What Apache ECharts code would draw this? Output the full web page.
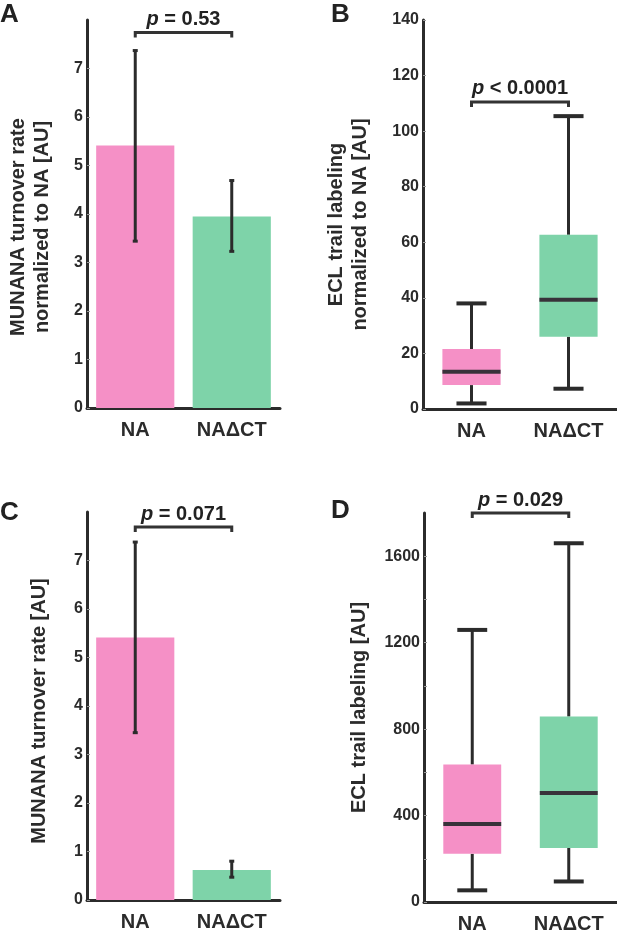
<!DOCTYPE html>
<html>
<head>
<meta charset="utf-8">
<script src="https://cdn.jsdelivr.net/npm/echarts@6/dist/echarts.min.js"></script>
<style>
  html, body { margin: 0; padding: 0; background: #fff; }
  #container { width: 617px; height: 945px; }
</style>
</head>
<body>
<div id="container"></div>
<script>
(function () {
    'use strict';

    // groups and colours
    var groups = ['NA', 'NA\u0394CT'];
    var groupColors = ['#F590C6', '#7ED3A9'];

    // A: turnover rate normalized to NA (mean, error low, error high)
    var rateNormMean = [5.41, 3.95];
    var rateNormLow = [3.44, 3.23];
    var rateNormHigh = [7.37, 4.69];

    // B: ECL trail labeling normalized to NA  [min, q1, median, q3, max]
    var eclNormBox = [
        [2.0, 8.6, 13.4, 21.6, 38.0],
        [7.3, 26.0, 39.3, 62.7, 105.4]
    ];

    // C: turnover rate [AU]
    var rateMean = [5.41, 0.62];
    var rateLow = [3.45, 0.47];
    var rateHigh = [7.38, 0.80];

    // D: ECL trail labeling [AU]  [min, q1, median, q3, max]
    var eclBox = [
        [54, 223, 361, 636, 1259],
        [95, 250, 504, 858, 1660]
    ];

    // significance brackets: height (data units) and p text
    var bracketHeights = [7.74, 110.5, 7.69, 1800];
    var pTexts = [' = 0.53', ' < 0.0001', ' = 0.071', ' = 0.029'];

    var font = 'Liberation Sans, Arial, Helvetica, sans-serif';
    var ink = '#2b2b2b';

    var dom = document.getElementById('container');
    var myChart = echarts.init(dom);

    function xAxisFor(gridIndex) {
        return {
            type: 'category',
            gridIndex: gridIndex,
            data: groups,
            boundaryGap: true,
            axisLine: { lineStyle: { color: ink, width: 3 } },
            axisTick: { show: false },
            axisLabel: { color: ink, fontSize: 20, fontWeight: 'bold', fontFamily: font, margin: 12 },
            splitLine: { show: false }
        };
    }

    function yAxisFor(gridIndex, max, interval, name, gap, pad, labelEvery) {
        return {
            type: 'value',
            gridIndex: gridIndex,
            min: 0,
            max: max,
            interval: interval,
            name: name,
            nameLocation: 'middle',
            nameRotate: 90,
            nameGap: gap,
            nameTextStyle: {
                color: ink, fontSize: 20, fontWeight: 'bold', fontFamily: font,
                lineHeight: 24, padding: pad
            },
            axisLine: { show: true, lineStyle: { color: ink, width: 3 } },
            axisTick: { show: true, inside: true, length: 3, lineStyle: { color: '#999', width: 1 } },
            axisLabel: {
                color: ink, fontSize: 16, fontWeight: 'bold', fontFamily: font, margin: 4,
                showMaxLabel: labelEvery === 0 ? true : false,
                formatter: function (v) {
                    if (labelEvery > 0 && v % labelEvery !== 0) return '';
                    return v;
                }
            },
            splitLine: { show: false }
        };
    }

    function errorBarItem(params, api) {
        var i = api.value(0);
        var lo = api.coord([i, api.value(1)]);
        var hi = api.coord([i, api.value(2)]);
        var cap = 2.5;
        var st = { stroke: ink, lineWidth: 3 };
        return {
            type: 'group',
            children: [
                { type: 'line', shape: { x1: lo[0], y1: lo[1], x2: hi[0], y2: hi[1] }, style: st },
                { type: 'line', shape: { x1: hi[0] - cap, y1: hi[1], x2: hi[0] + cap, y2: hi[1] }, style: st },
                { type: 'line', shape: { x1: lo[0] - cap, y1: lo[1], x2: lo[0] + cap, y2: lo[1] }, style: st }
            ]
        };
    }

    function boxItem(params, api) {
        var i = api.value(0);
        var band = api.size([1, 0])[0];
        var bw = band * 0.6;
        var cw = band * 0.31;
        var pMin = api.coord([i, api.value(1)]);
        var pQ1 = api.coord([i, api.value(2)]);
        var pMed = api.coord([i, api.value(3)]);
        var pQ3 = api.coord([i, api.value(4)]);
        var pMax = api.coord([i, api.value(5)]);
        var cx = pMed[0];
        var whisk = { stroke: ink, lineWidth: 3 };
        var capSt = { stroke: ink, lineWidth: 4 };
        return {
            type: 'group',
            children: [
                { type: 'line', shape: { x1: cx, y1: pMax[1], x2: cx, y2: pQ3[1] }, style: whisk },
                { type: 'line', shape: { x1: cx, y1: pQ1[1], x2: cx, y2: pMin[1] }, style: whisk },
                { type: 'rect', shape: { x: cx - bw / 2, y: pQ3[1], width: bw, height: pQ1[1] - pQ3[1] },
                  style: { fill: groupColors[i] } },
                { type: 'line', shape: { x1: cx - bw / 2, y1: pMed[1], x2: cx + bw / 2, y2: pMed[1] },
                  style: { stroke: '#38323a', lineWidth: 4 } },
                { type: 'line', shape: { x1: cx - cw / 2, y1: pMax[1], x2: cx + cw / 2, y2: pMax[1] }, style: capSt },
                { type: 'line', shape: { x1: cx - cw / 2, y1: pMin[1], x2: cx + cw / 2, y2: pMin[1] }, style: capSt }
            ]
        };
    }

    function bracketItem(params, api) {
        var h = api.value(2);
        var a = api.coord([api.value(0), h]);
        var b = api.coord([api.value(1), h]);
        var leg = 5;
        return {
            type: 'group',
            children: [
                { type: 'polyline',
                  shape: { points: [[a[0], a[1] + leg], [a[0], a[1]], [b[0], b[1]], [b[0], b[1] + leg]] },
                  style: { stroke: '#333', lineWidth: 3, fill: null } },
                { type: 'text',
                  style: {
                      x: (a[0] + b[0]) / 2, y: a[1] - 3,
                      text: '{i|p}{n|' + pTexts[params.seriesIndex % 4 === 0 ? 0 : 0] + '}',
                      align: 'center', verticalAlign: 'bottom',
                      fill: '#222',
                      rich: {
                          i: { font: 'italic bold 20px ' + font, fill: '#222' },
                          n: { font: 'bold 20px ' + font, fill: '#222' }
                      }
                  } }
            ]
        };
    }

    function bracketSeries(k) {
        return {
            type: 'custom',
            xAxisIndex: k, yAxisIndex: k,
            clip: false, silent: true, z: 5,
            encode: { x: [0, 1], y: 2 },
            data: [[0, 1, bracketHeights[k]]],
            renderItem: function (params, api) {
                var g = bracketItem(params, api);
                g.children[1].style.text = '{i|p}{n|' + pTexts[k] + '}';
                return g;
            }
        };
    }

    function barData(values) {
        return values.map(function (v, i) {
            return { value: v, itemStyle: { color: groupColors[i] } };
        });
    }

    function errData(lo, hi) {
        return lo.map(function (v, i) { return [i, v, hi[i]]; });
    }

    function boxData(rows) {
        return rows.map(function (r, i) { return [i].concat(r); });
    }

    var option = {
        backgroundColor: '#fff',
        animation: false,
        title: [
            { text: 'A', left: 0, top: 2 },
            { text: 'B', left: 331, top: 2 },
            { text: 'C', left: 0, top: 500 },
            { text: 'D', left: 331, top: 498 }
        ].map(function (t) {
            t.padding = 0;
            t.textStyle = { fontSize: 26, fontWeight: 'bold', color: '#222', fontFamily: font };
            return t;
        }),
        grid: [
            { left: 87, top: 20, width: 193, height: 388 },
            { left: 423, top: 20, width: 194, height: 389 },
            { left: 87, top: 512, width: 193, height: 388 },
            { left: 424, top: 513, width: 193, height: 389 }
        ],
        xAxis: [xAxisFor(0), xAxisFor(1), xAxisFor(2), xAxisFor(3)],
        yAxis: [
            yAxisFor(0, 8, 1, 'MUNANA turnover rate\nnormalized to NA [AU]', 33, [0, 26, 0, 0], -1),
            yAxisFor(1, 140, 20, 'ECL trail labeling\nnormalized to NA [AU]', 51, [0, 20, 0, 0], 0),
            yAxisFor(2, 8, 1, 'MUNANA turnover rate [AU]', 36, [0, 10, 0, 0], -1),
            yAxisFor(3, 1800, 200, 'ECL trail labeling [AU]', 53, 0, 400)
        ],
        series: [
            { type: 'bar', xAxisIndex: 0, yAxisIndex: 0, barWidth: '81%', data: barData(rateNormMean) },
            { type: 'custom', xAxisIndex: 0, yAxisIndex: 0, z: 4, encode: { x: 0, y: [1, 2] },
              data: errData(rateNormLow, rateNormHigh), renderItem: errorBarItem },
            { type: 'custom', xAxisIndex: 1, yAxisIndex: 1, z: 4, encode: { x: 0, y: [1, 2, 3, 4, 5] },
              data: boxData(eclNormBox), renderItem: boxItem },
            { type: 'bar', xAxisIndex: 2, yAxisIndex: 2, barWidth: '81%', data: barData(rateMean) },
            { type: 'custom', xAxisIndex: 2, yAxisIndex: 2, z: 4, encode: { x: 0, y: [1, 2] },
              data: errData(rateLow, rateHigh), renderItem: errorBarItem },
            { type: 'custom', xAxisIndex: 3, yAxisIndex: 3, z: 4, encode: { x: 0, y: [1, 2, 3, 4, 5] },
              data: boxData(eclBox), renderItem: boxItem },
            bracketSeries(0), bracketSeries(1), bracketSeries(2), bracketSeries(3)
        ]
    };

    myChart.setOption(option);
})();
</script>
</body>
</html>
